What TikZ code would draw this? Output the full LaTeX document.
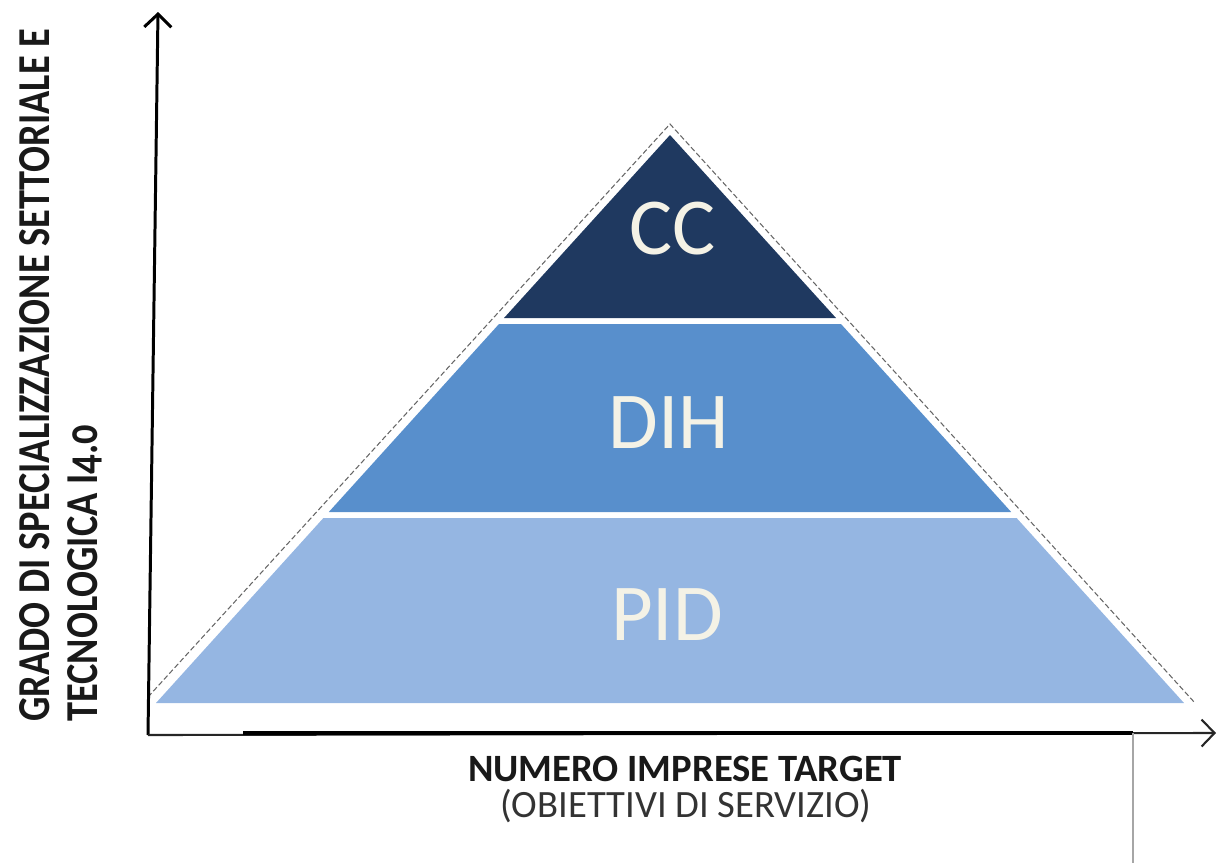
\documentclass[tikz,border=0pt]{standalone}
\usepackage{fontspec}
\setmainfont{Carlito}
\newfontfamily\narrowfont[FakeStretch=0.84,Numbers=OldStyle]{Carlito}
\usetikzlibrary{arrows.meta}
\definecolor{ccblue}{HTML}{1F3960}
\definecolor{dihblue}{HTML}{588FCC}
\definecolor{pidblue}{HTML}{95B6E2}
\definecolor{cream}{HTML}{F4F2E6}

\begin{document}
\begin{tikzpicture}[x=0.02cm,y=-0.02cm,>={Straight Barb[length=2.6mm,width=5.4mm]},
	level/.style={font=\fontsize{46}{52}\selectfont, text=cream},
	axis/.style={line width=1.7pt,->},
	ylabel/.style={rotate=90,anchor=base west,inner sep=0pt,font=\narrowfont\bfseries\fontsize{26}{30}\selectfont,text=black!90}]
\useasboundingbox (0,0) rectangle (1218,863);

% pyramid
\fill[pidblue] (323.4,518) -- (1016.6,518) -- (1184,703) -- (156,703) -- cycle;
\fill[dihblue] (499,324) -- (841,324) -- (1011.2,512) -- (328.8,512) -- cycle;
\fill[ccblue] (670,135) -- (836,318) -- (504,318) -- cycle;
\draw[gray!80!black,line width=0.6pt,dash pattern=on 3pt off 1.5pt] (148,697) -- (670,124) -- (1195,703);

\node[level] (cc) at (673,229) {CC};
\node[level] (dih) at (669,423) {DIH};
\node[level] (pid) at (667,615) {PID};

% axes
\coordinate (O) at (148,735);
\coordinate (ytop) at (158,12);
\coordinate (xend) at (1216,733);
\coordinate (xa) at (243,733);
\coordinate (xb) at (1133,733);
\coordinate (foot) at (1133,863);
\draw[axis] (O) -- (ytop);
\draw[axis,line width=1.2pt,black!85] (O) -- (xend);
\draw[line width=2.4pt] (xa) -- (xb);
\draw[gray!70,line width=0.9pt] (xb) -- (foot);

% labels
\node[ylabel] (ylab1) at (50,722) {GRADO DI SPECIALIZZAZIONE SETTORIALE E};
\node[ylabel] (ylab2) at (97,722) {TECNOLOGICA\ I4.0};
\node[inner sep=0pt,font=\bfseries\fontsize{22}{26}\selectfont,text=black!90] (xlab) at (685,769) {NUMERO IMPRESE TARGET};
\node[inner sep=0pt,font=\fontsize{22}{26}\selectfont,text=black!80] (xsub) at (686,806) {(OBIETTIVI DI SERVIZIO)};

\end{tikzpicture}
\end{document}
